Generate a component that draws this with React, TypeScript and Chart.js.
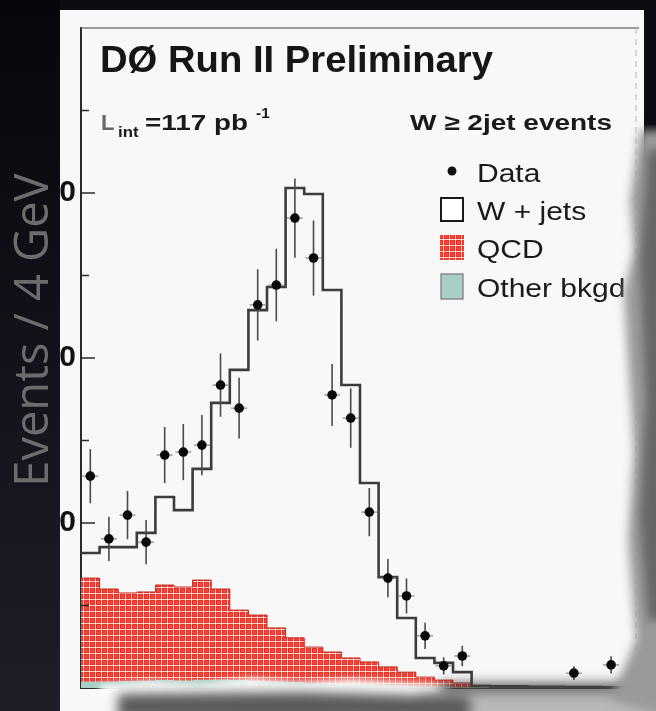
import React, { useEffect, useRef } from 'react';
import { Chart, registerables } from 'chart.js';

Chart.register(...registerables);

// 4 GeV bins, lower edges
const BIN_WIDTH = 4;
const binLowEdges = [0, 4, 8, 12, 16, 20, 24, 28, 32, 36, 40, 44, 48, 52, 56, 60, 64, 68, 72, 76, 80, 84, 88, 92, 96, 100, 104, 108, 112, 116];

// Observed events per bin (null = empty bin)
const dataCounts = [64.2, 45.2, 52.4, 44.2, 70.6, 71.5, 73.6, 91.8, 84.8, 116.1, 122.1, 142.4, 130.3, 88.8, 81.8, 53.3, 33.3, 27.9, 15.8, 6.7, 9.7, null, null, null, null, null, 4.5, null, 7.0, null];
const dataErrors = [8.2, 6.7, 7.3, 6.7, 8.5, 8.5, 9.1, 9.6, 9.2, 10.8, 11.0, 12.0, 11.4, 9.4, 9.0, 7.3, 5.8, 5.3, 4.0, 2.6, 3.1, null, null, null, null, null, 2.1, null, 2.6, null];

// Expected total (W + jets histogram outline)
const wjetsTotal = [40.9, 42.7, 42.7, 47.0, 57.9, 53.9, 66.4, 86.4, 96.4, 114.5, 121.5, 151.5, 149.7, 120.6, 91.8, 62.1, 33.6, 21.2, 9.1, 7.6, 4.8, 0.6, 0.5, 0.5, 0.4, 0.4, 0.3, 0.3, 0.2, 0.2];

// QCD background (hatched red)
const qcdBkgd = [33.3, 30.0, 28.8, 29.1, 31.2, 30.6, 32.7, 30.0, 23.6, 22.1, 18.2, 15.2, 12.4, 10.9, 9.1, 7.9, 6.4, 4.8, 3.3, 2.4, 1.5, 0.8, 0, 0, 0, 0, 0, 0, 0, 0];

// Other backgrounds
const otherBkgd = [2.0, 2.0, 2.1, 2.2, 2.4, 2.3, 2.5, 2.6, 2.4, 2.2, 2.0, 1.8, 1.5, 1.2, 1.0, 0.8, 0.6, 0.5, 0.4, 0.3, 0.2, 0.2, 0.1, 0.1, 0, 0, 0, 0, 0, 0];

const Y_MAX = 200;
const X_MAX = 120;

const SANS = "'Liberation Sans', Arial, Helvetica, sans-serif";

function stepPoints(vals: number[]) {
  const pts = binLowEdges.map((lo, i) => ({ x: lo, y: vals[i] }));
  pts.push({ x: binLowEdges[binLowEdges.length - 1] + BIN_WIDTH, y: vals[vals.length - 1] });
  return pts;
}

function makeQcdPattern(): CanvasPattern | string {
  const c = document.createElement('canvas');
  c.width = 6;
  c.height = 6;
  const g = c.getContext('2d');
  if (!g) return '#e33a2e';
  g.fillStyle = '#e2342a';
  g.fillRect(0, 0, 6, 6);
  g.fillStyle = '#f9d2cc';
  g.fillRect(0, 5, 6, 1);
  g.fillRect(5, 0, 1, 6);
  g.fillStyle = '#ffffff';
  g.fillRect(5, 5, 1, 1);
  g.fillStyle = '#ea4a3e';
  g.fillRect(1, 1, 3, 3);
  const p = g.createPattern(c, 'repeat');
  return p || '#e33a2e';
}

function drawText(ctx: CanvasRenderingContext2D, text: string, x: number, y: number, font: string, sx = 1, color = '#111') {
  ctx.save();
  ctx.font = font;
  ctx.fillStyle = color;
  ctx.textAlign = 'left';
  ctx.textBaseline = 'alphabetic';
  ctx.translate(x, y);
  ctx.scale(sx, 1);
  ctx.fillText(text, 0, 0);
  ctx.restore();
}

function drawFitText(ctx: CanvasRenderingContext2D, text: string, x: number, y: number, font: string, width: number, color = '#111') {
  ctx.save();
  ctx.font = font;
  const w = ctx.measureText(text).width;
  ctx.restore();
  drawText(ctx, text, x, y, font, width / w, color);
}

export default function App() {
  const canvasRef = useRef<HTMLCanvasElement | null>(null);

  useEffect(() => {
    const canvas = canvasRef.current;
    if (!canvas) return;
    const qcdPattern = makeQcdPattern();

    // Paper background and dark surround
    const backdrop = {
      id: 'backdrop',
      beforeDraw(chart: any) {
        const { ctx, width, height } = chart;
        ctx.save();
        const g = ctx.createLinearGradient(0, 0, 0, height);
        g.addColorStop(0, '#06060c');
        g.addColorStop(1, '#1e1e29');
        ctx.fillStyle = g;
        ctx.fillRect(0, 0, width, height);
        ctx.fillStyle = '#f8f8f8';
        ctx.fillRect(60, 10, 584, height - 10);
        ctx.restore();
      },
    };

    // Poisson error bars under the data markers
    const errorBars = {
      id: 'errorBars',
      beforeDatasetDraw(chart: any, args: any) {
        if (args.index !== 0) return;
        const { ctx } = chart;
        const xs = chart.scales.x;
        const ys = chart.scales.y;
        ctx.save();
        binLowEdges.forEach((lo, i) => {
          const v = dataCounts[i];
          const e = dataErrors[i];
          if (v == null || e == null) return;
          const px = xs.getPixelForValue(lo + BIN_WIDTH / 2);
          const py = ys.getPixelForValue(v);
          ctx.strokeStyle = '#4a4a4a';
          ctx.lineWidth = 1.6;
          ctx.beginPath();
          ctx.moveTo(px, ys.getPixelForValue(v + e));
          ctx.lineTo(px, ys.getPixelForValue(Math.max(0, v - e)));
          ctx.stroke();
          ctx.strokeStyle = '#8a8a8a';
          ctx.lineWidth = 1.2;
          ctx.beginPath();
          ctx.moveTo(px - 8, py);
          ctx.lineTo(px + 8, py);
          ctx.stroke();
        });
        ctx.restore();
      },
    };

    // Frame, inward ticks, labels and legend
    const annotations = {
      id: 'annotations',
      afterDatasetsDraw(chart: any) {
        const { ctx, chartArea } = chart;
        const ys = chart.scales.y;
        ctx.save();
        // frame top and right
        ctx.strokeStyle = '#7a7a7a';
        ctx.lineWidth = 1.6;
        ctx.beginPath();
        ctx.moveTo(chartArea.left, chartArea.top);
        ctx.lineTo(chartArea.right, chartArea.top);
        ctx.stroke();
        ctx.strokeStyle = '#c4c4c4';
        ctx.lineWidth = 1.2;
        ctx.setLineDash([6, 5]);
        ctx.beginPath();
        ctx.moveTo(chartArea.right - 3, chartArea.top);
        ctx.lineTo(chartArea.right - 3, chartArea.bottom);
        ctx.stroke();
        ctx.setLineDash([]);
        // inward ticks on the y axis
        ctx.strokeStyle = '#2a2a2a';
        ctx.lineWidth = 1.5;
        ys.ticks.forEach((t: any) => {
          if (t.value <= 0 || t.value >= Y_MAX) return;
          const py = ys.getPixelForValue(t.value);
          const len = t.value % 50 === 0 ? 14 : 8;
          ctx.beginPath();
          ctx.moveTo(chartArea.left, py);
          ctx.lineTo(chartArea.left + len, py);
          ctx.stroke();
        });
        ctx.restore();

        // header texts
        drawFitText(ctx, 'DØ Run II Preliminary', 100, 72, `bold 36px ${SANS}`, 393, '#161616');
        drawText(ctx, 'L', 101, 130, `bold 22px ${SANS}`, 1.0, '#666');
        drawText(ctx, 'int', 118, 137, `bold 14px ${SANS}`, 1.2, '#1a1a1a');
        drawFitText(ctx, '=117 pb', 145, 130, `bold 22px ${SANS}`, 103, '#1a1a1a');
        drawText(ctx, '-1', 256, 118, `bold 14px ${SANS}`, 1.1, '#1a1a1a');
        drawFitText(ctx, 'W ≥ 2jet events', 410, 130, `bold 22px ${SANS}`, 202, '#1a1a1a');

        // legend built from dataset labels
        const ds = chart.data.datasets;
        const legendFont = `25px ${SANS}`;
        const tx = 477;
        ctx.save();
        ctx.fillStyle = '#111';
        ctx.beginPath();
        ctx.arc(452, 171, 4.5, 0, Math.PI * 2);
        ctx.fill();
        drawText(ctx, ds[0].label, tx, 182, legendFont, 1.2, '#1a1a1a');

        ctx.fillStyle = '#ffffff';
        ctx.fillRect(441, 198, 22, 23);
        ctx.strokeStyle = '#1a1a1a';
        ctx.lineWidth = 2;
        ctx.strokeRect(441, 198, 22, 23);
        drawText(ctx, ds[1].label, tx, 220, legendFont, 1.2, '#1a1a1a');

        ctx.fillStyle = qcdPattern as any;
        ctx.fillRect(440, 235, 24, 25);
        drawText(ctx, ds[2].label, tx, 258, legendFont, 1.2, '#1a1a1a');

        ctx.fillStyle = '#a9cec6';
        ctx.fillRect(441, 274, 22, 25);
        ctx.strokeStyle = '#8a8a8a';
        ctx.lineWidth = 1.5;
        ctx.strokeRect(441, 274, 22, 25);
        drawText(ctx, ds[3].label, tx, 297, legendFont, 1.2, '#1a1a1a');
        ctx.restore();
      },
      afterDraw(chart: any) {
        const { ctx, width, height } = chart;
        ctx.save();
        // torn lower edge of the sheet
        ctx.filter = 'blur(3px)';
        ctx.fillStyle = '#fbfbfb';
        ctx.beginPath();
        ctx.moveTo(100, 685);
        ctx.lineTo(150, 681);
        ctx.lineTo(200, 684);
        ctx.lineTo(250, 678);
        ctx.lineTo(300, 682);
        ctx.lineTo(350, 679);
        ctx.lineTo(410, 683);
        ctx.lineTo(450, 685);
        ctx.lineTo(450, 696);
        ctx.lineTo(100, 696);
        ctx.closePath();
        ctx.fill();
        ctx.filter = 'blur(6px)';
        ctx.fillStyle = '#b8b8b8';
        ctx.fillRect(420, 692, 260, 30);
        ctx.fillStyle = '#5a5a5a';
        ctx.beginPath();
        ctx.moveTo(118, 694);
        ctx.lineTo(300, 692);
        ctx.lineTo(470, 697);
        ctx.lineTo(470, 720);
        ctx.lineTo(118, 720);
        ctx.closePath();
        ctx.fill();
        ctx.fillStyle = '#2e2e2e';
        ctx.fillRect(440, 684, 200, 8);
        // torn right edge shadow
        ctx.filter = 'blur(5px)';
        ctx.fillStyle = '#9a9a9a';
        ctx.beginPath();
        ctx.moveTo(640, 130);
        ctx.lineTo(630, 200);
        ctx.lineTo(634, 250);
        ctx.lineTo(624, 292);
        ctx.lineTo(628, 360);
        ctx.lineTo(634, 450);
        ctx.lineTo(628, 540);
        ctx.lineTo(636, 640);
        ctx.lineTo(610, 700);
        ctx.lineTo(680, 720);
        ctx.lineTo(680, 130);
        ctx.closePath();
        ctx.fill();
        ctx.fillStyle = '#666666';
        ctx.beginPath();
        ctx.moveTo(648, 150);
        ctx.lineTo(640, 260);
        ctx.lineTo(646, 400);
        ctx.lineTo(640, 520);
        ctx.lineTo(648, 620);
        ctx.lineTo(680, 620);
        ctx.lineTo(680, 150);
        ctx.closePath();
        ctx.fill();
        ctx.filter = 'none';
        ctx.fillStyle = '#0c0c12';
        ctx.fillRect(644, 0, width - 644, 125);
        ctx.fillRect(60, 0, width - 60, 10);
        // dark side strip
        const g = ctx.createLinearGradient(0, 0, 0, height);
        g.addColorStop(0, '#06060c');
        g.addColorStop(1, '#1e1e29');
        ctx.fillStyle = g;
        ctx.fillRect(0, 0, 60, height);
        ctx.restore();
        // axis title on the dark strip
        ctx.save();
        ctx.font = `47px 'Open Sans', 'Noto Sans', sans-serif`;
        ctx.fillStyle = '#6c6c6c';
        ctx.textAlign = 'center';
        ctx.textBaseline = 'alphabetic';
        ctx.translate(48, 330);
        ctx.rotate(-Math.PI / 2);
        ctx.fillText('Events / 4 GeV', 0, 0);
        ctx.restore();
      },
    };

    const chart = new Chart(canvas, {
      type: 'line',
      data: {
        datasets: [
          {
            label: 'Data',
            data: binLowEdges
              .map((lo, i) => (dataCounts[i] == null ? null : { x: lo + BIN_WIDTH / 2, y: dataCounts[i] as number }))
              .filter((p) => p !== null) as any,
            showLine: false,
            pointRadius: 4.8,
            pointHoverRadius: 4.8,
            pointBackgroundColor: '#0a0a0a',
            pointBorderColor: '#0a0a0a',
            pointBorderWidth: 0,
            order: 0,
          },
          {
            label: 'W + jets',
            data: stepPoints(wjetsTotal) as any,
            stepped: true,
            borderColor: '#3c3c3c',
            borderWidth: 2.6,
            pointRadius: 0,
            fill: false,
            order: 1,
          },
          {
            label: 'QCD',
            data: stepPoints(qcdBkgd) as any,
            stepped: true,
            borderColor: '#c0281f',
            borderWidth: 1,
            pointRadius: 0,
            fill: 'origin',
            backgroundColor: qcdPattern as any,
            order: 3,
          },
          {
            label: 'Other bkgd',
            data: stepPoints(otherBkgd) as any,
            stepped: true,
            borderColor: 'rgba(0,0,0,0)',
            borderWidth: 0,
            pointRadius: 0,
            fill: 'origin',
            backgroundColor: '#a9cec6',
            order: 2,
          },
        ],
      },
      options: {
        responsive: false,
        animation: false,
        events: [],
        layout: { padding: { left: 0, top: 28, right: 17, bottom: 23 } },
        plugins: {
          legend: { display: false },
          tooltip: { enabled: false },
          title: { display: false },
        },
        scales: {
          x: {
            type: 'linear',
            min: 0,
            max: X_MAX,
            grid: { display: false, drawTicks: false },
            ticks: { display: false },
            border: { display: true, color: '#2a2a2a', width: 2 },
            afterFit(scale: any) {
              scale.height = 0;
            },
          },
          y: {
            type: 'linear',
            min: 0,
            max: Y_MAX,
            grid: { display: false, drawTicks: false },
            border: { display: true, color: '#2a2a2a', width: 2 },
            ticks: {
              stepSize: 25,
              padding: 5,
              color: '#111',
              font: { family: SANS, size: 30, weight: 'bold' },
              callback: (v: any) => (Number(v) % 50 === 0 && Number(v) > 0 && Number(v) < Y_MAX ? String(v) : ''),
            },
            afterFit(scale: any) {
              scale.width = 81;
            },
          },
        },
      },
      plugins: [backdrop, errorBars, annotations],
    });

    return () => chart.destroy();
  }, []);

  return (
    <div style={{ position: 'absolute', left: 0, top: 0, width: 656, height: 711 }}>
      <canvas ref={canvasRef} width={656} height={711} style={{ display: 'block' }} />
    </div>
  );
}
